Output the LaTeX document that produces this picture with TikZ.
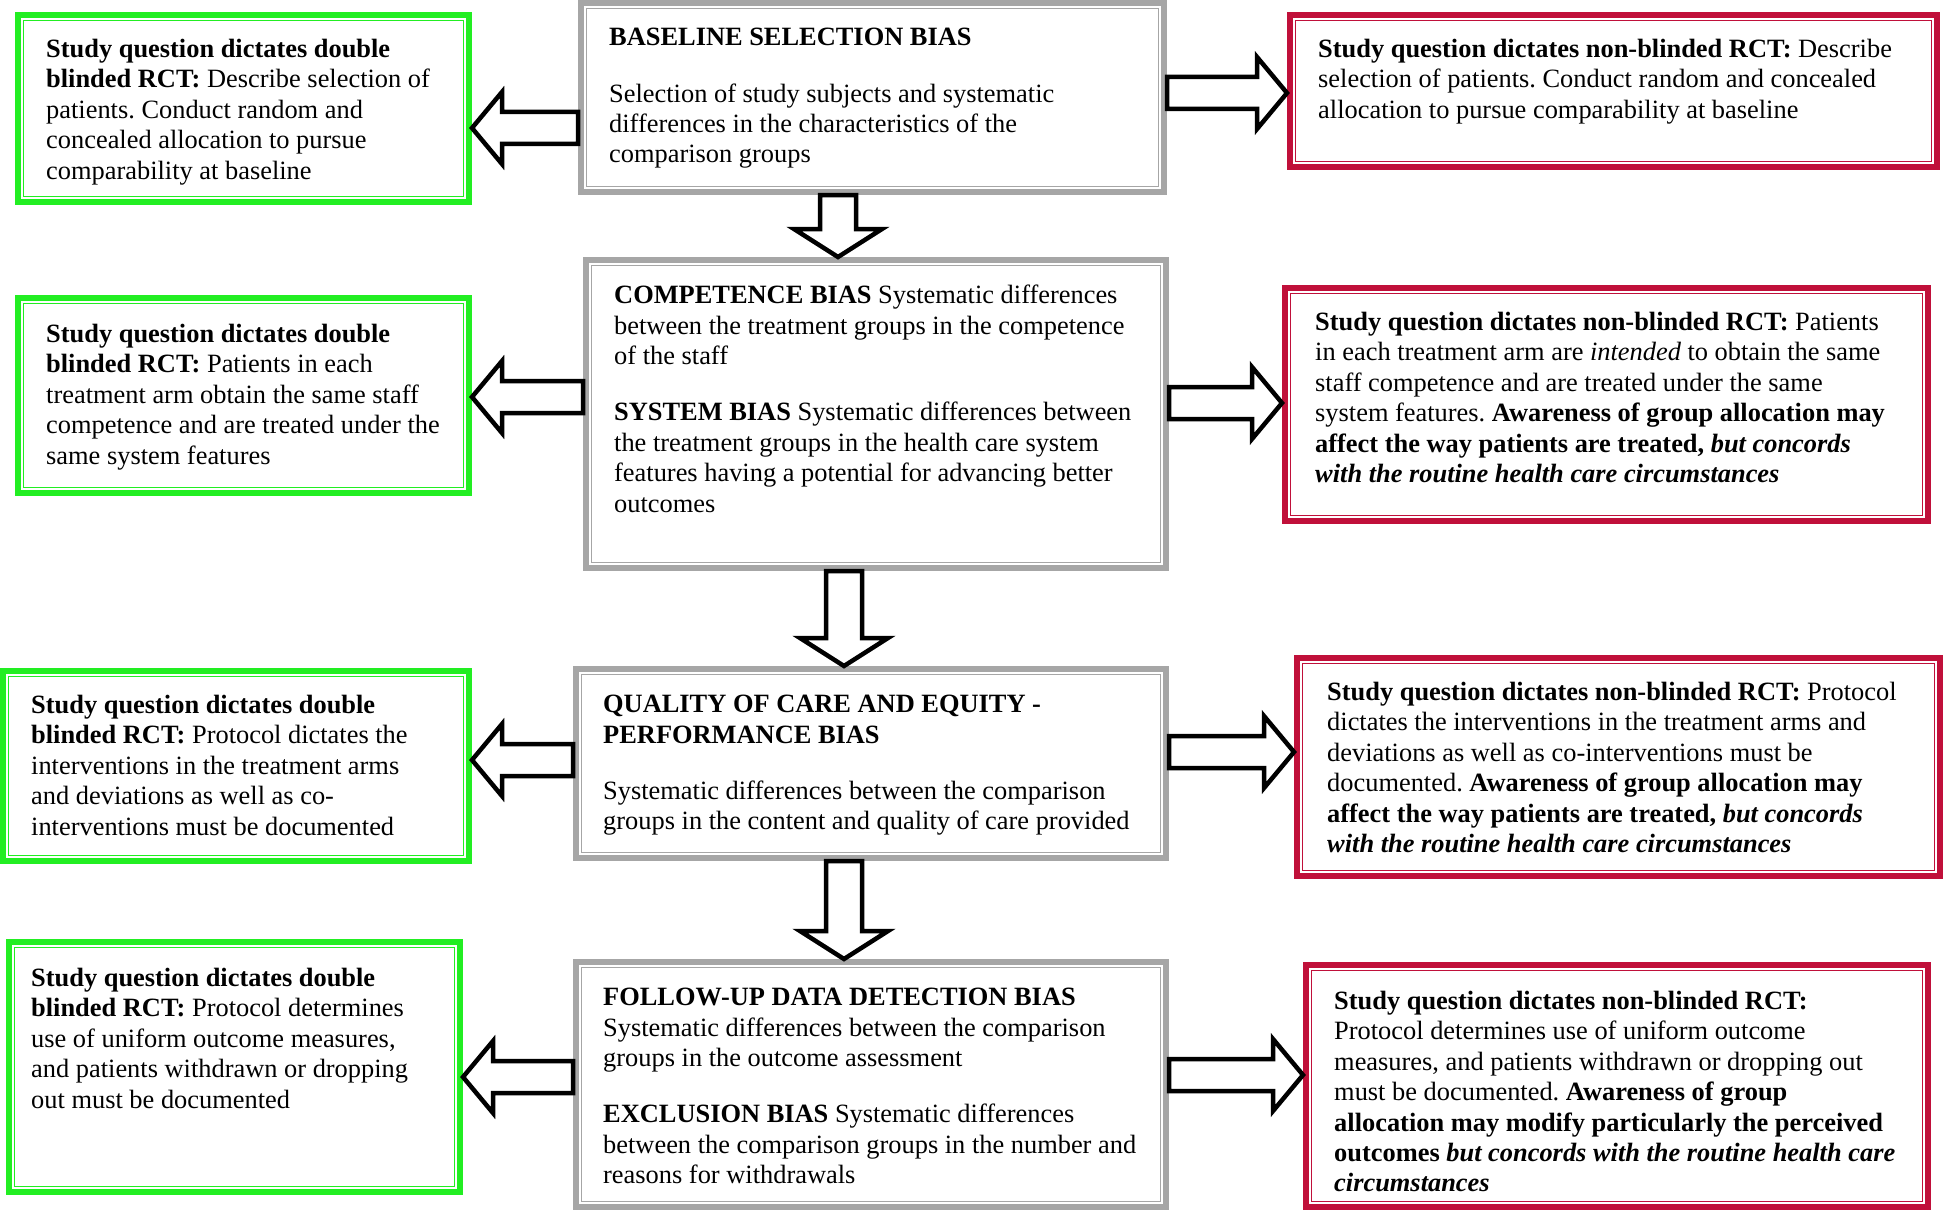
\documentclass[tikz,border=0pt]{standalone}
\usepackage{fontspec}
\setmainfont{Liberation Serif}
\usetikzlibrary{calc}
\frenchspacing

\definecolor{boxgray}{RGB}{166,166,166}
\definecolor{boxgreen}{RGB}{34,238,34}
\definecolor{boxred}{RGB}{192,16,58}

\tikzset{
  box/.style={draw, line width=6pt, fill=white, inner sep=0pt, outer sep=3pt},
  graybox/.style={box, draw=boxgray},
  greenbox/.style={box, draw=boxgreen},
  redbox/.style={box, draw=boxred},
  innerline/.style={line width=1.2pt},
  txt/.style={anchor=north west, align=left, inner sep=0pt, font=\fontsize{26.4}{30.4}\selectfont},
  barrow/.style={draw=black, fill=white, line width=4.5pt, line join=miter},
}

% block arrow: tail, tip, direction (1 = right, -1 = left)
\newcommand{\harrow}[3]{%
  \draw[barrow] let \p1=(#1), \p2=(#2) in
    (\x1,{\y1+16pt}) -- ({\x2-(#3)*30pt},{\y1+16pt}) -- ({\x2-(#3)*30pt},{\y1+36pt})
    -- (\x2,\y1) -- ({\x2-(#3)*30pt},{\y1-36pt}) -- ({\x2-(#3)*30pt},{\y1-16pt})
    -- (\x1,{\y1-16pt}) -- cycle;
}
% block arrow pointing down: tail, tip
\newcommand{\varrow}[2]{%
  \draw[barrow] let \p1=(#1), \p2=(#2) in
    ({\x1-18pt},\y1) -- ({\x1-18pt},{\y2+28pt}) -- ({\x1-44pt},{\y2+28pt})
    -- (\x1,\y2) -- ({\x1+44pt},{\y2+28pt}) -- ({\x1+18pt},{\y2+28pt})
    -- ({\x1+18pt},\y1) -- cycle;
}

\begin{document}
\begin{tikzpicture}[x=1pt, y=-1pt]
  \useasboundingbox (0,0) rectangle (1946,1212);

  % Bias boxes in the middle
  \node[graybox, minimum width=583pt, minimum height=189pt] (c1) at (872.5,97.5) {};
  \node[graybox, minimum width=580pt, minimum height=308pt] (c2) at (876,414) {};
  \node[graybox, minimum width=590pt, minimum height=189pt] (c3) at (871,763.5) {};
  \node[graybox, minimum width=590pt, minimum height=245pt] (c4) at (871,1084.5) {};

  % Double blinded RCT (left)
  \node[greenbox, minimum width=451pt, minimum height=187pt] (g1) at (243.5,108.5) {};
  \node[greenbox, minimum width=451pt, minimum height=195pt] (g2) at (243.5,395.5) {};
  \node[greenbox, minimum width=466pt, minimum height=190pt] (g3) at (236,766) {};
  \node[greenbox, minimum width=451pt, minimum height=250pt] (g4) at (234.5,1067) {};

  % Non-blinded RCT (right)
  \node[redbox, minimum width=647pt, minimum height=152pt] (r1) at (1613.5,91) {};
  \node[redbox, minimum width=643pt, minimum height=233pt] (r2) at (1606.5,404.5) {};
  \node[redbox, minimum width=643pt, minimum height=218pt] (r3) at (1618.5,767) {};
  \node[redbox, minimum width=622pt, minimum height=242pt] (r4) at (1617,1086) {};

  % thin inner frames
  \foreach \b in {c1,c2,c3,c4}
    \draw[innerline, boxgray] ([xshift=8.5pt,yshift=-8.5pt]\b.north west) rectangle ([xshift=-8.5pt,yshift=8.5pt]\b.south east);
  \foreach \b in {g1,g2,g3,g4}
    \draw[innerline, boxgreen] ([xshift=8.5pt,yshift=-8.5pt]\b.north west) rectangle ([xshift=-8.5pt,yshift=8.5pt]\b.south east);
  \foreach \b in {r1,r2,r3,r4}
    \draw[innerline, boxred] ([xshift=8.5pt,yshift=-8.5pt]\b.north west) rectangle ([xshift=-8.5pt,yshift=8.5pt]\b.south east);

  % Texts
  \node[txt] (c1t) at (609,28) {\textbf{BASELINE SELECTION BIAS}\\[26pt]
    Selection of study subjects and systematic\\
    differences in the characteristics of the\\
    comparison groups};
  \node[txt] (c2t) at (614,285) {\textbf{COMPETENCE BIAS} Systematic differences\\
    between the treatment groups in the competence\\
    of the staff\\[26pt]
    \textbf{SYSTEM BIAS} Systematic differences between\\
    the treatment groups in the health care system\\
    features having a potential for advancing better\\
    outcomes};
  \node[txt] (c3t) at (603,695) {\textbf{QUALITY OF CARE AND EQUITY -}\\
    \textbf{PERFORMANCE BIAS}\\[26pt]
    Systematic differences between the comparison\\
    groups in the content and quality of care provided};
  \node[txt] (c4t) at (603,988) {\textbf{FOLLOW-UP DATA DETECTION BIAS}\\
    Systematic differences between the comparison\\
    groups in the outcome assessment\\[26pt]
    \textbf{EXCLUSION BIAS} Systematic differences\\
    between the comparison groups in the number and\\
    reasons for withdrawals};

  \node[txt] (g1t) at (46,39) {\textbf{Study question dictates double}\\
    \textbf{blinded RCT:} Describe selection of\\
    patients. Conduct random and\\
    concealed allocation to pursue\\
    comparability at baseline};
  \node[txt] (g2t) at (46,324) {\textbf{Study question dictates double}\\
    \textbf{blinded RCT:} Patients in each\\
    treatment arm obtain the same staff\\
    competence and are treated under the\\
    same system features};
  \node[txt] (g3t) at (31,695) {\textbf{Study question dictates double}\\
    \textbf{blinded RCT:} Protocol dictates the\\
    interventions in the treatment arms\\
    and deviations as well as co-\\
    interventions must be documented};
  \node[txt] (g4t) at (31,968) {\textbf{Study question dictates double}\\
    \textbf{blinded RCT:} Protocol determines\\
    use of uniform outcome measures,\\
    and patients withdrawn or dropping\\
    out must be documented};

  \node[txt] (r1t) at (1318,39) {\textbf{Study question dictates non-blinded RCT:} Describe\\
    selection of patients. Conduct random and concealed\\
    allocation to pursue comparability at baseline};
  \node[txt] (r2t) at (1315,312) {\textbf{Study question dictates non-blinded RCT:} Patients\\
    in each treatment arm are \textit{intended} to obtain the same\\
    staff competence and are treated under the same\\
    system features. \textbf{Awareness of group allocation may}\\
    \textbf{affect the way patients are treated, \textit{but concords}}\\
    \textbf{\textit{with the routine health care circumstances}}};
  \node[txt] (r3t) at (1327,682) {\textbf{Study question dictates non-blinded RCT:} Protocol\\
    dictates the interventions in the treatment arms and\\
    deviations as well as co-interventions must be\\
    documented. \textbf{Awareness of group allocation may}\\
    \textbf{affect the way patients are treated, \textit{but concords}}\\
    \textbf{\textit{with the routine health care circumstances}}};
  \node[txt] (r4t) at (1334,991) {\textbf{Study question dictates non-blinded RCT:}\\
    Protocol determines use of uniform outcome\\
    measures, and patients withdrawn or dropping out\\
    must be documented. \textbf{Awareness of group}\\
    \textbf{allocation may modify particularly the perceived}\\
    \textbf{outcomes \textit{but concords with the routine health care}}\\
    \textbf{\textit{circumstances}}};

  % Arrows down the middle
  \varrow{[xshift=-34.5pt]c1.south}{c2.north}
  \varrow{[xshift=-32pt]c2.south}{c3.north}
  \varrow{[xshift=-27pt]c3.south}{c4.north}

  % Arrows to the left
  \harrow{[yshift=-30.5pt]c1.west}{g1.east}{-1}
  \harrow{[yshift=17pt]c2.west}{g2.east}{-1}
  \harrow{[yshift=3.5pt]c3.west}{g3.east}{-1}
  \harrow{[yshift=7.5pt]c4.west}{g4.east}{-1}

  % Arrows to the right
  \harrow{[yshift=4.5pt]c1.east}{r1.west}{1}
  \harrow{[yshift=11pt]c2.east}{r2.west}{1}
  \harrow{[yshift=11.5pt]c3.east}{r3.west}{1}
  \harrow{[yshift=9.5pt]c4.east}{r4.west}{1}
\end{tikzpicture}
\end{document}
